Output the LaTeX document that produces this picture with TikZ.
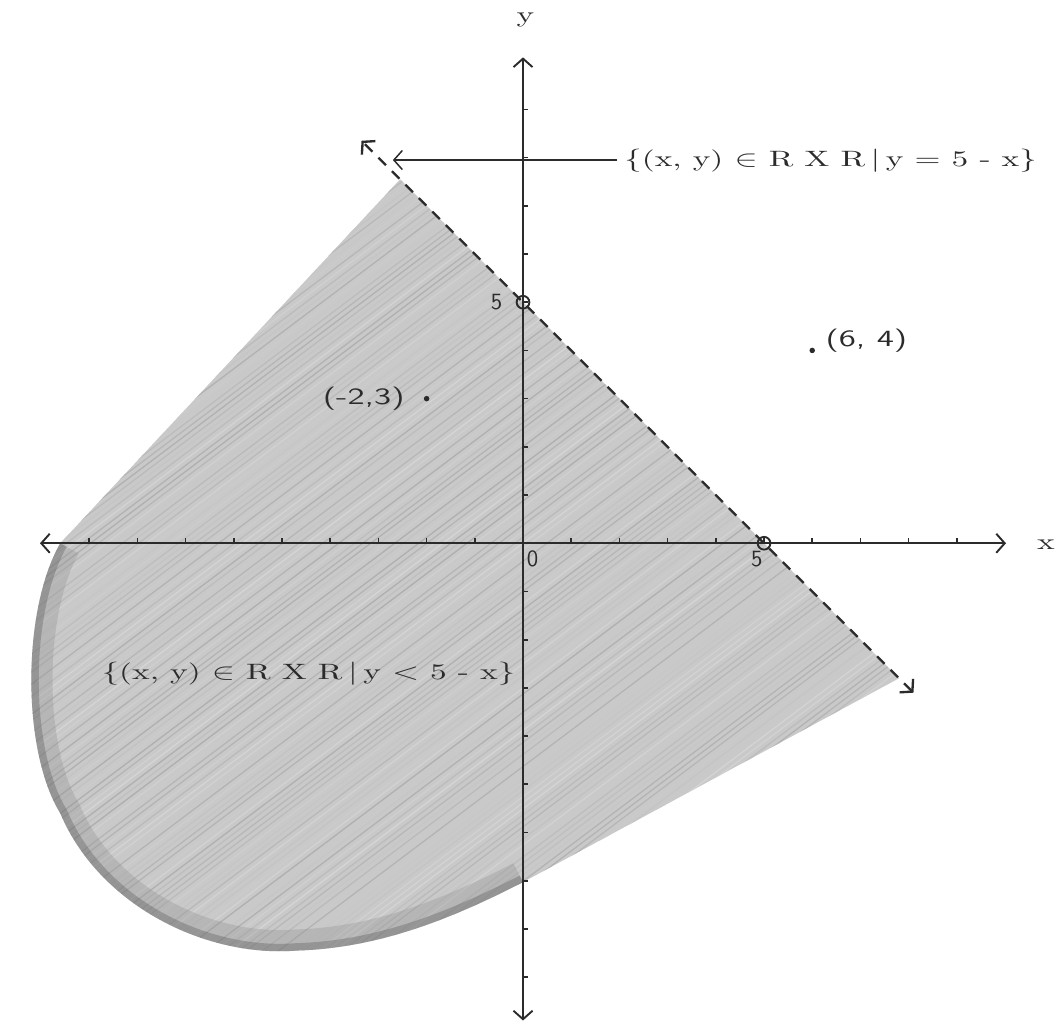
\documentclass[tikz,border=0pt]{standalone}
\usepackage{xcolor}
\usepackage{graphicx}
\usepackage{tikz}
\usetikzlibrary{arrows.meta,calc}
\definecolor{grafito}{HTML}{2B2B2B}
\definecolor{lapiz}{HTML}{C9C9C9}
% texto de maquina: letras anchas
\newcommand{\ancho}[1]{\scalebox{1.5}[1]{#1}}
% borde de la region y < 5 - x
\newcommand{\regionpath}{(-2.55,7.55) -- (7.8,-2.8) -- (0,-7.03)
  .. controls (-1.5,-7.8) and (-3,-8.4) .. (-4.7,-8.45)
  .. controls (-6.6,-8.6) and (-8.8,-7.5) .. (-9.6,-5.6)
  .. controls (-10.4,-4.3) and (-10.4,-1.4) .. (-9.6,0) -- cycle}
\newcommand{\bordepath}{(-9.6,0)
  .. controls (-10.4,-1.4) and (-10.4,-4.3) .. (-9.6,-5.6)
  .. controls (-8.8,-7.5) and (-6.6,-8.6) .. (-4.7,-8.45)
  .. controls (-3,-8.4) and (-1.5,-7.8) .. (0,-7.03)}
\tikzset{punta/.tip={Straight Barb[length=4pt,width=9pt]}}

\begin{document}
\begin{tikzpicture}[x=0.8cm,y=0.8cm,font=\fontsize{10.5}{12}\selectfont,
  eje/.style={grafito, line width=0.9pt, punta-punta},
  tic/.style={grafito, line width=0.8pt},
  recta/.style={grafito, line width=1.1pt, dash pattern=on 5pt off 4pt, punta-punta},
  circulo/.style={circle, draw=grafito, line width=0.9pt, inner sep=0pt, minimum size=6pt},
  punto/.style={circle, fill=grafito, inner sep=0pt, minimum size=2.6pt},
  cifra/.style={font=\fontsize{11}{13}\sffamily, grafito}]
  \useasboundingbox (-10.85,-9.96) rectangle (11.14,11.27);
  % region sombreada a lapiz
  \fill[lapiz] \regionpath;
  \begin{scope}
    \clip \regionpath;
    \pgfmathsetseed{7}
    \begin{scope}[rotate=37]
      \foreach \i in {-20,-19.9,...,20}{
        \pgfmathsetmacro\tono{14+22*rnd}
        \draw[black!\tono, line width=0.6pt, opacity=0.7] (-25,\i) -- (25,\i);
      }
    \end{scope}
    % trazo mas oscuro del borde
    \draw[black!45, line width=20pt, opacity=0.3] \bordepath;
    \draw[black!65, line width=7pt, opacity=0.35] \bordepath;
  \end{scope}
  % ejes
  \coordinate (xizq) at (-10.02,0);
  \coordinate (xder) at (10.02,0);
  \coordinate (yarr) at (0,10.08);
  \coordinate (yab) at (0,-9.9);
  \draw[eje] (xizq) -- (xder);
  \draw[eje] (yab) -- (yarr);
  \foreach \k in {-9,...,-1,1,2,...,9}{
    \draw[tic] (\k,0) -- (\k,0.1);
    \draw[tic] (0,\k) -- (0.1,\k);
  }
  \node[grafito] (ylab) at (0.05,10.85) {\ancho{y}};
  \node[grafito] (xlab) at (10.85,-0.02) {\ancho{x}};
  % recta y = 5 - x
  \coordinate (dsup) at (-3.35,8.35);
  \coordinate (dinf) at (8.1,-3.1);
  \draw[recta] (dinf) -- (dsup);
  \node[circulo] (cortey) at (0,5) {};
  \node[circulo] (cortex) at (5,0) {};
  \node[cifra] (cincoy) at (-0.55,5.0) {5};
  \node[cifra] (cero) at (0.2,-0.32) {0};
  \node[cifra] (cincox) at (4.85,-0.32) {5};
  % puntos
  \node[punto] (p64) at (6,4) {};
  \node[cifra, anchor=west] (p64lab) at (6.12,4.2) {\ancho{(6, 4)}};
  \node[punto] (p23) at (-2,3) {};
  \node[cifra, anchor=east] (p23lab) at (-2.3,3.0) {\ancho{(-2,3)}};
  % rotulos de conjuntos
  \node[grafito, anchor=west] (rectalab) at (1.95,7.95)
    {\ancho{$\{$(x, y) $\in$ R X R\,$\big|$\,y = 5 - x$\}$}};
  \coordinate (flechafin) at (-2.7,7.95);
  \draw[grafito, line width=0.7pt, -punta] (rectalab.west) -- (flechafin);
  \node[grafito] (regionlab) at (-4.45,-2.7)
    {\ancho{$\{$(x, y) $\in$ R X R\,$\big|$\,y $<$ 5 - x$\}$}};
\end{tikzpicture}
\end{document}
